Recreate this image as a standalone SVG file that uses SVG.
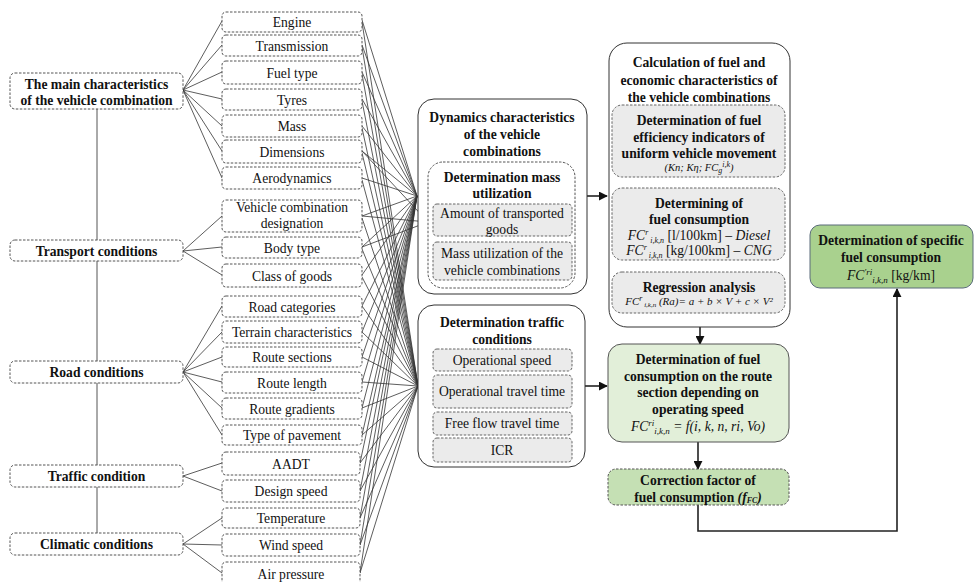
<svg xmlns="http://www.w3.org/2000/svg" width="976" height="582" viewBox="0 0 976 582" font-family="'Liberation Serif', 'DejaVu Serif', serif">
<defs>
<style>
text{font-family:'Liberation Serif','DejaVu Serif',serif;font-size:13.6px;fill:#111;text-anchor:middle}
.b{font-weight:bold}
.i{font-style:italic}
.box{fill:#fff;stroke:#555;stroke-width:1;stroke-dasharray:2.5 1.5}
.gbox{fill:#ebebeb;stroke:#666;stroke-width:1;stroke-dasharray:2.5 1.5}
.solid{fill:#fff;stroke:#333;stroke-width:1}
.fan line{stroke:#333;stroke-width:0.8}
.conn{stroke:#222;stroke-width:1.6;fill:none}
</style>
<marker id="ah" viewBox="0 0 10 10" refX="9" refY="5" markerWidth="9" markerHeight="9" markerUnits="userSpaceOnUse" orient="auto">
<path d="M0,0 L10,5 L0,10 z" fill="#111"/>
</marker>
</defs>

<g id="connectors">
<line x1="97" y1="109" x2="97" y2="533" stroke="#555" stroke-width="1"/>
<g class="fan">
<line x1="183" y1="90" x2="222" y2="21"/><line x1="183" y1="90" x2="222" y2="45"/><line x1="183" y1="90" x2="222" y2="72"/><line x1="183" y1="90" x2="222" y2="99"/><line x1="183" y1="90" x2="222" y2="126"/><line x1="183" y1="90" x2="222" y2="151"/><line x1="183" y1="90" x2="222" y2="178"/>
<line x1="183" y1="251" x2="222" y2="216"/><line x1="183" y1="251" x2="222" y2="247"/><line x1="183" y1="251" x2="222" y2="275"/>
<line x1="183" y1="372" x2="222" y2="306"/><line x1="183" y1="372" x2="222" y2="332"/><line x1="183" y1="372" x2="222" y2="357"/><line x1="183" y1="372" x2="222" y2="382"/><line x1="183" y1="372" x2="222" y2="408"/><line x1="183" y1="372" x2="222" y2="435"/>
<line x1="183" y1="476" x2="222" y2="463"/><line x1="183" y1="476" x2="222" y2="491"/>
<line x1="183" y1="544" x2="222" y2="518"/><line x1="183" y1="544" x2="222" y2="545"/><line x1="183" y1="544" x2="222" y2="573"/>
<line x1="362" y1="20" x2="417" y2="196"/><line x1="362" y1="45" x2="417" y2="196"/><line x1="362" y1="72" x2="417" y2="196"/><line x1="362" y1="99" x2="417" y2="196"/><line x1="362" y1="126" x2="417" y2="196"/><line x1="362" y1="151" x2="417" y2="196"/><line x1="362" y1="178" x2="417" y2="196"/>
<line x1="362" y1="216" x2="417" y2="196"/><line x1="362" y1="247" x2="417" y2="196"/><line x1="362" y1="275" x2="417" y2="196"/><line x1="362" y1="306" x2="417" y2="196"/><line x1="362" y1="332" x2="417" y2="196"/><line x1="362" y1="357" x2="417" y2="196"/><line x1="362" y1="382" x2="417" y2="196"/><line x1="362" y1="408" x2="417" y2="196"/><line x1="362" y1="435" x2="417" y2="196"/><line x1="360" y1="463" x2="417" y2="196"/><line x1="360" y1="491" x2="417" y2="196"/><line x1="360" y1="518" x2="417" y2="196"/><line x1="360" y1="545" x2="417" y2="196"/><line x1="360" y1="573" x2="417" y2="196"/>
<line x1="362" y1="151" x2="428" y2="222"/><line x1="362" y1="216" x2="428" y2="222"/><line x1="362" y1="247" x2="428" y2="222"/>
<line x1="362" y1="22" x2="418" y2="386"/><line x1="362" y1="47" x2="418" y2="386"/><line x1="362" y1="74" x2="418" y2="386"/><line x1="362" y1="101" x2="418" y2="386"/><line x1="362" y1="128" x2="418" y2="386"/><line x1="362" y1="153" x2="418" y2="386"/><line x1="362" y1="180" x2="418" y2="386"/>
<line x1="362" y1="218" x2="418" y2="386"/><line x1="362" y1="249" x2="418" y2="386"/><line x1="362" y1="277" x2="418" y2="386"/><line x1="362" y1="306" x2="418" y2="386"/><line x1="362" y1="332" x2="418" y2="386"/><line x1="362" y1="357" x2="418" y2="386"/><line x1="362" y1="382" x2="418" y2="386"/><line x1="362" y1="408" x2="418" y2="386"/><line x1="362" y1="435" x2="418" y2="386"/><line x1="360" y1="463" x2="418" y2="386"/><line x1="360" y1="491" x2="418" y2="386"/><line x1="360" y1="518" x2="418" y2="386"/><line x1="360" y1="545" x2="418" y2="386"/><line x1="360" y1="573" x2="418" y2="386"/>
</g>
<line class="conn" x1="587" y1="196" x2="607" y2="196" marker-end="url(#ah)"/>
<line class="conn" x1="585" y1="386" x2="607" y2="386" marker-end="url(#ah)"/>
<line class="conn" x1="700" y1="177" x2="700" y2="188" marker-end="url(#ah)"/>
<line class="conn" x1="700" y1="260" x2="700" y2="272" marker-end="url(#ah)"/>
<line class="conn" x1="700" y1="327" x2="700" y2="344" marker-end="url(#ah)"/>
<line class="conn" x1="698" y1="442" x2="698" y2="469" marker-end="url(#ah)"/>
<polyline class="conn" points="698,505 698,531 897,531 897,289" marker-end="url(#ah)"/>
</g>

<g id="n-main"><rect class="box" x="10" y="73" width="173" height="36" rx="5"/><text class="b" x="96.5" y="88.5">The main characteristics</text><text class="b" x="96.5" y="104.5">of the vehicle combination</text></g>
<g id="n-transport"><rect class="box" x="10" y="240" width="173" height="21" rx="5"/><text class="b" x="96.5" y="255.5">Transport conditions</text></g>
<g id="n-road"><rect class="box" x="10" y="361" width="173" height="22" rx="5"/><text class="b" x="96.5" y="377">Road conditions</text></g>
<g id="n-traffic"><rect class="box" x="10" y="465" width="173" height="22" rx="5"/><text class="b" x="96.5" y="481">Traffic condition</text></g>
<g id="n-climatic"><rect class="box" x="10" y="533" width="173" height="22" rx="5"/><text class="b" x="96.5" y="549">Climatic conditions</text></g>

<g id="n-engine"><rect class="box" x="222" y="12" width="140" height="20" rx="4"/><text x="292" y="26.5">Engine</text></g>
<g id="n-transmission"><rect class="box" x="222" y="35" width="140" height="21" rx="4"/><text x="292" y="50.5">Transmission</text></g>
<g id="n-fueltype"><rect class="box" x="222" y="61" width="140" height="23" rx="4"/><text x="292" y="77.5">Fuel type</text></g>
<g id="n-tyres"><rect class="box" x="222" y="89" width="140" height="21" rx="4"/><text x="292" y="104.5">Tyres</text></g>
<g id="n-mass"><rect class="box" x="222" y="115" width="140" height="22" rx="4"/><text x="292" y="131">Mass</text></g>
<g id="n-dimensions"><rect class="box" x="222" y="140" width="140" height="23" rx="4"/><text x="292" y="156.5">Dimensions</text></g>
<g id="n-aero"><rect class="box" x="222" y="167" width="140" height="22" rx="4"/><text x="292" y="183">Aerodynamics</text></g>
<g id="n-vcd"><rect class="box" x="222" y="200" width="140" height="32" rx="4"/><text x="292" y="211.5">Vehicle combination</text><text x="292" y="228">designation</text></g>
<g id="n-body"><rect class="box" x="222" y="237" width="140" height="21" rx="4"/><text x="292" y="252.5">Body type</text></g>
<g id="n-class"><rect class="box" x="222" y="264" width="140" height="23" rx="4"/><text x="292" y="280.5">Class of goods</text></g>
<g id="n-roadcat"><rect class="box" x="222" y="296" width="140" height="21" rx="4"/><text x="292" y="311.5">Road categories</text></g>
<g id="n-terrain"><rect class="box" x="222" y="321" width="140" height="22" rx="4"/><text x="292" y="337">Terrain characteristics</text></g>
<g id="n-sections"><rect class="box" x="222" y="347" width="140" height="20" rx="4"/><text x="292" y="362">Route sections</text></g>
<g id="n-length"><rect class="box" x="222" y="372" width="140" height="21" rx="4"/><text x="292" y="387.5">Route length</text></g>
<g id="n-gradients"><rect class="box" x="222" y="398" width="140" height="21" rx="4"/><text x="292" y="413.5">Route gradients</text></g>
<g id="n-pavement"><rect class="box" x="222" y="425" width="140" height="20" rx="4"/><text x="292" y="440">Type of pavement</text></g>
<g id="n-aadt"><rect class="box" x="222" y="452" width="138" height="23" rx="4"/><text x="291" y="468.5">AADT</text></g>
<g id="n-design"><rect class="box" x="222" y="480" width="138" height="22" rx="4"/><text x="291" y="496">Design speed</text></g>
<g id="n-temp"><rect class="box" x="222" y="508" width="138" height="20" rx="4"/><text x="291" y="523">Temperature</text></g>
<g id="n-wind"><rect class="box" x="222" y="534" width="138" height="22" rx="4"/><text x="291" y="550">Wind speed</text></g>
<g id="n-air"><rect class="box" x="222" y="562" width="138" height="24" rx="4"/><text x="291" y="578.5">Air pressure</text></g>

<g id="n-dynamics">
<rect class="solid" x="418" y="99" width="169" height="195" rx="16"/>
<text class="b" x="502" y="122">Dynamics characteristics</text>
<text class="b" x="502" y="139">of the vehicle</text>
<text class="b" x="502" y="156">combinations</text>
<rect class="box" x="428" y="162" width="147" height="126" rx="15"/>
<text class="b" x="502" y="182">Determination mass</text>
<text class="b" x="502" y="198">utilization</text>
<rect class="gbox" x="433" y="204" width="139" height="32" rx="4"/>
<text x="502" y="218">Amount of transported</text>
<text x="502" y="233.5">goods</text>
<rect class="gbox" x="433" y="242" width="139" height="38" rx="4"/>
<text x="502" y="258">Mass utilization of the</text>
<text x="502" y="275">vehicle combinations</text>
</g>

<g id="n-trafficcond">
<rect class="solid" x="418" y="305" width="167" height="162" rx="16"/>
<text class="b" x="502" y="327">Determination traffic</text>
<text class="b" x="502" y="344">conditions</text>
<rect class="gbox" x="433" y="349" width="139" height="22" rx="4"/><text x="502" y="365">Operational speed</text>
<rect class="gbox" x="433" y="375" width="139" height="33" rx="4"/><text x="502" y="396">Operational travel time</text>
<rect class="gbox" x="433" y="412" width="139" height="23" rx="4"/><text x="502" y="428">Free flow travel time</text>
<rect class="gbox" x="433" y="438" width="139" height="24" rx="4"/><text x="502" y="455">ICR</text>
</g>

<g id="n-calc">
<rect class="solid" x="609" y="43" width="181" height="284" rx="18"/>
<text class="b" x="699" y="67">Calculation of fuel and</text>
<text class="b" x="699" y="84.5">economic characteristics of</text>
<text class="b" x="699" y="102">the vehicle combinations</text>
<rect class="gbox" x="612" y="105" width="173" height="72" rx="10"/>
<text class="b" x="699" y="125">Determination of fuel</text>
<text class="b" x="699" y="142">efficiency indicators of</text>
<text class="b" x="699" y="158">uniform vehicle movement</text>
<text class="i" x="699" y="171" style="font-size:10.5px">(Kn; Kη; FC<tspan dy="2" font-size="8">g</tspan><tspan dy="-6" font-size="8">i,k</tspan><tspan dy="4">)</tspan></text>
<rect class="gbox" x="612" y="188" width="173" height="72" rx="10"/>
<text class="b" x="699" y="207.5">Determining of</text>
<text class="b" x="699" y="224">fuel consumption</text>
<text x="699" y="239.5"><tspan class="i">FC</tspan><tspan class="i" font-size="8" dy="-5">r</tspan><tspan class="i" font-size="8" dy="8"> i,k,n</tspan><tspan dy="-3"> [l/100km] – </tspan><tspan class="i">Diesel</tspan></text>
<text x="699" y="254.5"><tspan class="i">FC</tspan><tspan class="i" font-size="8" dy="-5">r</tspan><tspan class="i" font-size="8" dy="8"> i,k,n</tspan><tspan dy="-3"> [kg/100km] – </tspan><tspan class="i">CNG</tspan></text>
<rect class="gbox" x="612" y="272" width="173" height="41" rx="10"/>
<text class="b" x="699" y="292">Regression analysis</text>
<text class="i" x="699" y="304.5" style="font-size:11px">FC<tspan font-size="8" dy="-4">r</tspan><tspan font-size="7" dy="6"> i,k,n</tspan><tspan dy="-2"> (Ra)= a + b × V + c × V²</tspan></text>
</g>

<g id="n-route">
<rect x="608" y="344" width="181" height="98" rx="14" fill="#e2efd9" stroke="#555" stroke-width="1"/>
<text class="b" x="698" y="364">Determination of fuel</text>
<text class="b" x="698" y="381">consumption on the route</text>
<text class="b" x="698" y="397">section depending on</text>
<text class="b" x="698" y="414">operating speed</text>
<text class="i" x="698" y="430.5">FC<tspan font-size="9" dy="-5">ri</tspan><tspan font-size="9" dy="8">i,k,n</tspan><tspan dy="-3"> = f(i, k, n, ri, Vo)</tspan></text>
</g>

<g id="n-correction">
<rect x="608" y="469" width="181" height="36" rx="8" fill="#c5e0b4" stroke="#555" stroke-width="1" stroke-dasharray="2.5 1.5"/>
<text class="b" x="698" y="485">Correction factor of</text>
<text class="b" x="698" y="501.5">fuel consumption <tspan class="i">(f</tspan><tspan class="i" font-size="8" dy="1">FC</tspan><tspan class="i" dy="-1">)</tspan></text>
</g>

<g id="n-specific">
<rect x="810" y="225" width="163" height="63" rx="10" fill="#a9d18e" stroke="#5a6b7a" stroke-width="1"/>
<text class="b" x="891" y="245">Determination of specific</text>
<text class="b" x="891" y="262">fuel consumption</text>
<text x="891" y="279.5"><tspan class="i">FC</tspan><tspan class="i" font-size="9" dy="-5">'ri</tspan><tspan class="i" font-size="9" dy="8">i,k,n</tspan><tspan dy="-3"> [kg/km]</tspan></text>
</g>
</svg>
